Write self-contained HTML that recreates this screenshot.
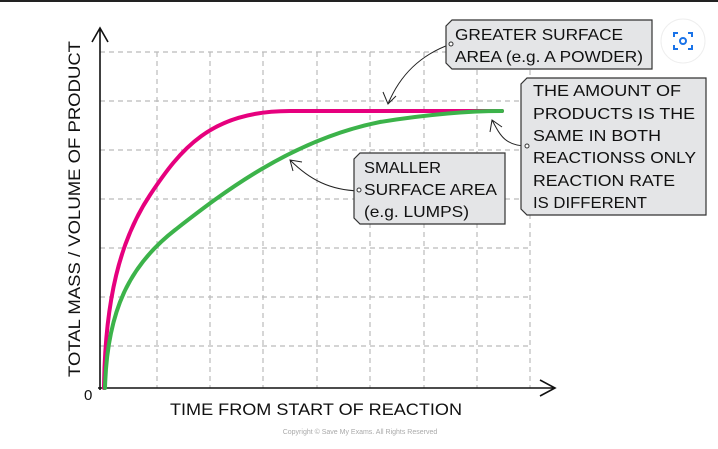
<!DOCTYPE html>
<html><head><style>
body{margin:0;background:#fff;width:718px;height:444px;overflow:hidden;font-family:"Liberation Sans",sans-serif}
</style></head><body>
<svg width="718" height="444" xmlns="http://www.w3.org/2000/svg" font-family="Liberation Sans, sans-serif">
<rect x="0" y="0" width="718" height="2" fill="#222"/>
<g stroke="#bbb" stroke-width="1.2" stroke-dasharray="5,4" fill="none">
<path d="M157 52V388M210 52V388M263 52V388M317 52V388M370 52V388M424 52V388M477 52V388M530 52V388"/>
<path d="M100 52H530M100 101H530M100 150H530M100 199H530M100 248H530M100 297H530M100 346H530"/>
</g>
<g stroke="#111" stroke-width="1.6" fill="none">
<path d="M100 390V28M92 42L100 28L108 42"/>
<path d="M98 388H555M540 380L555 388L540 396"/>
</g>
<text x="84" y="400" font-size="15" fill="#111">0</text>
<text x="316" y="415" font-size="17" text-anchor="middle" fill="#111" textLength="292" lengthAdjust="spacingAndGlyphs">TIME FROM START OF REACTION</text>
<text transform="translate(80,209) rotate(-90)" font-size="17" text-anchor="middle" fill="#111" textLength="336" lengthAdjust="spacingAndGlyphs">TOTAL MASS / VOLUME OF PRODUCT</text>
<text x="360" y="434" font-size="7" text-anchor="middle" fill="#aaa">Copyright © Save My Exams. All Rights Reserved</text>
<path d="M104 388C105 300 120 240 150 195C180 150 210 111 290 111L502 111" stroke="#e6007e" stroke-width="4" fill="none" stroke-linecap="round"/>
<path d="M105 388C107 310 130 265 175 230C220 195 290 140 380 122C430 114 470 111 502 111" stroke="#3cb34a" stroke-width="4" fill="none" stroke-linecap="round"/>
<g stroke="#222" stroke-width="1" fill="none">
<path d="M451 44C420 55 400 75 388 104M383 92L388 104L396 96"/>
<path d="M527 146C505 146 500 135 492 120M490 132L492 120L502 127"/>
<path d="M359 191C330 190 310 180 290 160M293 171L290 160L302 162"/>
</g>
<g fill="#e4e5e7" stroke="#333" stroke-width="1.2">
<path d="M452 20H652V69H452L446 63V26Z"/>
<path d="M527 78H706V215H527L521 209V84Z"/>
<path d="M360 153H505V224H360L354 218V159Z"/>
</g>
<g fill="#fff" stroke="#333"><circle cx="451" cy="44" r="2"/><circle cx="527" cy="146" r="2"/><circle cx="359" cy="190" r="2"/></g>
<g font-size="16" fill="#111">
<text x="455" y="40" textLength="168" lengthAdjust="spacingAndGlyphs">GREATER SURFACE</text>
<text x="455" y="62" textLength="188" lengthAdjust="spacingAndGlyphs">AREA (e.g. A POWDER)</text>
<text x="533" y="96" textLength="148" lengthAdjust="spacingAndGlyphs">THE AMOUNT OF</text>
<text x="533" y="119" textLength="162" lengthAdjust="spacingAndGlyphs">PRODUCTS IS THE</text>
<text x="533" y="141" textLength="128" lengthAdjust="spacingAndGlyphs">SAME IN BOTH</text>
<text x="533" y="163" textLength="163" lengthAdjust="spacingAndGlyphs">REACTIONSS ONLY</text>
<text x="533" y="186" textLength="142" lengthAdjust="spacingAndGlyphs">REACTION RATE</text>
<text x="533" y="208" textLength="114" lengthAdjust="spacingAndGlyphs">IS DIFFERENT</text>
<text x="364" y="173" textLength="77" lengthAdjust="spacingAndGlyphs">SMALLER</text>
<text x="364" y="195" textLength="133" lengthAdjust="spacingAndGlyphs">SURFACE AREA</text>
<text x="364" y="217" textLength="105" lengthAdjust="spacingAndGlyphs">(e.g. LUMPS)</text>
</g>
<circle cx="683" cy="41" r="22" fill="#fff" stroke="#eee"/>
<g stroke="#1a73e8" stroke-width="2" fill="none">
<path d="M674 37V33H678M688 33H692V37M692 45V49H688M678 49H674V45"/>
<circle cx="683" cy="41" r="3"/>
</g>
</svg>
</body></html>
